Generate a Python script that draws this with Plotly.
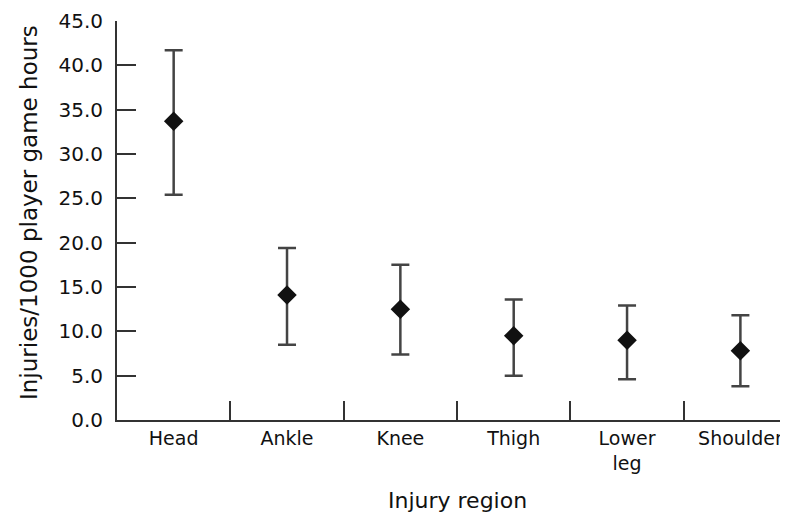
import plotly.graph_objects as go

regions = ["Head", "Ankle", "Knee", "Thigh", "Lower<br>leg", "Shoulder"]
rates = [33.7, 14.1, 12.5, 9.5, 9.0, 7.8]
upper = [41.7, 19.4, 17.5, 13.6, 12.9, 11.8]
lower = [25.4, 8.5, 7.4, 5.0, 4.6, 3.8]
y_ticks = [0, 5, 10, 15, 20, 25, 30, 35, 40, 45]

err_plus = [u - r for u, r in zip(upper, rates)]
err_minus = [r - l for r, l in zip(rates, lower)]

FONT = "DejaVu Sans"
TXT = "#111111"
LINE = "#333333"

fig = go.Figure()
fig.add_trace(go.Scatter(
    x=regions, y=rates, mode="markers",
    marker=dict(symbol="diamond", size=15, color="#111111"),
    error_y=dict(type="data", symmetric=False, array=err_plus, arrayminus=err_minus,
                 color="#444444", thickness=2.5, width=9),
    showlegend=False,
))

# page has an 8px body margin: figure is 780x509, placed at (8, 8)
fig.update_layout(
    width=780, height=509,
    margin=dict(l=109, r=0, t=13, b=97),
    paper_bgcolor="white", plot_bgcolor="white",
    font=dict(family=FONT, size=20, color=TXT),
    xaxis=dict(
        range=[-0.5, 5.42], showline=True, linecolor=LINE, linewidth=2,
        ticks="inside", tickson="boundaries", ticklen=19, tickwidth=2, tickcolor=LINE,
        showgrid=False, zeroline=False, tickfont=dict(size=19, color=TXT),
    ),
    yaxis=dict(
        range=[0, 45], tickvals=y_ticks, tickformat=".1f",
        showline=True, linecolor=LINE, linewidth=2,
        ticks="inside", ticklen=19, tickwidth=2, tickcolor=LINE,
        showgrid=False, zeroline=False, ticklabelstandoff=8,
        tickfont=dict(size=20, color=TXT),
    ),
    annotations=[
        dict(text="Injuries/1000 player game hours", xref="paper", yref="paper",
             x=(29 - 117) / 671, y=(420 - 213) / 399, xanchor="center", yanchor="middle",
             textangle=-90, showarrow=False, font=dict(size=23, color=TXT)),
        dict(text="Injury region", xref="paper", yref="paper",
             x=(457 - 117) / 671, y=(420 - 500) / 399, xanchor="center", yanchor="middle",
             showarrow=False, font=dict(size=22, color=TXT)),
    ],
)

fig.write_html("out.html")
